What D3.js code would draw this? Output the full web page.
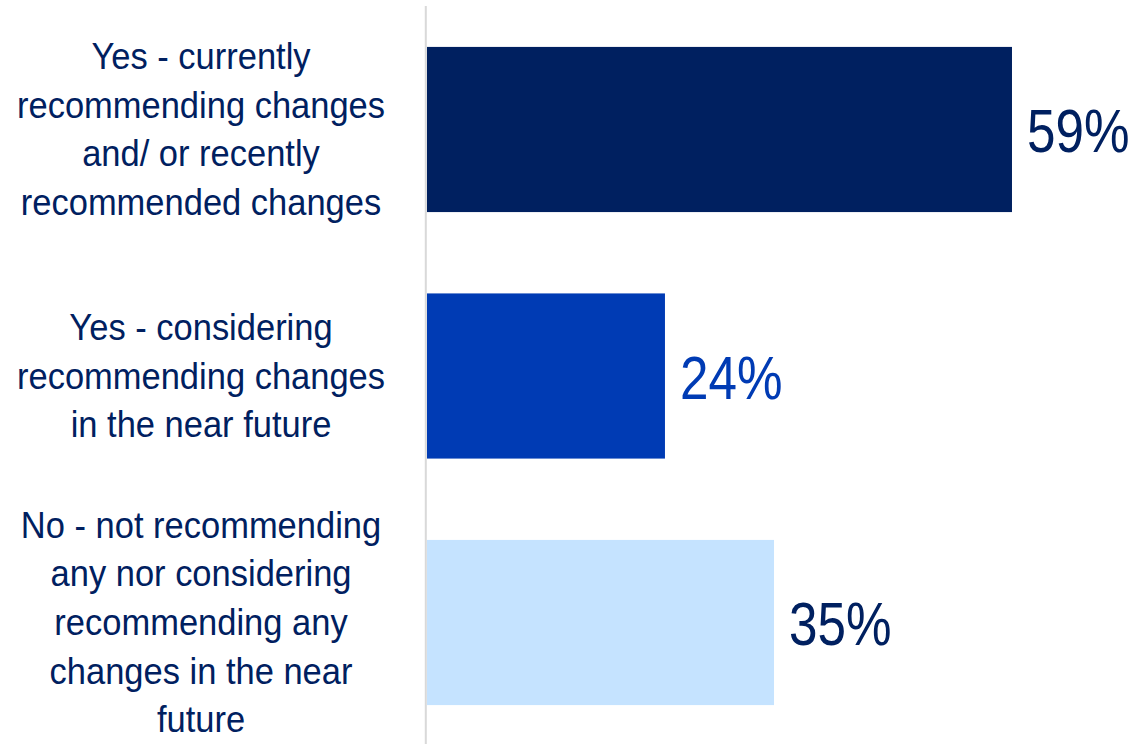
<!DOCTYPE html>
<html>
<head>
<meta charset="utf-8">
<script src="https://cdn.jsdelivr.net/npm/d3@7"></script>
<style>
  html, body { margin: 0; padding: 0; background: #ffffff; }
  svg { display: block; }
  text { font-family: "Liberation Sans", Arial, sans-serif; }
</style>
</head>
<body>
<svg id="chart" width="1138" height="744"></svg>
<script>
// Survey responses: share recommending changes
const categories = [
  "Yes - currently recommending changes and/ or recently recommended changes",
  "Yes - considering recommending changes in the near future",
  "No - not recommending any nor considering recommending any changes in the near future"
];
const categoryLines = [
  ["Yes - currently", "recommending changes", "and/ or recently", "recommended changes"],
  ["Yes - considering", "recommending changes", "in the near future"],
  ["No - not recommending", "any nor considering", "recommending any", "changes in the near", "future"]
];
const values = [59, 24, 35];
const valueLabels = ["59%", "24%", "35%"];
const barColors = ["#002060", "#003BB4", "#C5E3FF"];
const labelColors = ["#002060", "#003BB4", "#002060"];

const W = 1138, H = 744;
const svg = d3.select("#chart");

const x = d3.scaleLinear().domain([0, 70]).range([427, 427 + 70 * 9.915]);
const y = d3.scaleBand()
  .domain(d3.range(categories.length))
  .range([6, 746])
  .paddingInner(0.33)
  .paddingOuter(0.166);

// vertical category axis line
svg.append("line")
  .attr("x1", 425.8).attr("x2", 425.8)
  .attr("y1", 6).attr("y2", H)
  .attr("stroke", "#D9D9D9")
  .attr("stroke-width", 2);

// bars
svg.selectAll("rect.bar")
  .data(values)
  .join("rect")
  .attr("class", "bar")
  .attr("x", x(0))
  .attr("y", (d, i) => y(i))
  .attr("width", d => x(d) - x(0))
  .attr("height", y.bandwidth())
  .attr("fill", (d, i) => barColors[i]);

// value labels
svg.selectAll("text.value")
  .data(values)
  .join("text")
  .attr("class", "value")
  .attr("transform", (d, i) => `translate(${x(d) + 15},${y(i) + y.bandwidth() / 2 + 22.5}) scale(0.84,1)`)
  .attr("font-size", 61)
  .attr("fill", (d, i) => labelColors[i])
  .text((d, i) => valueLabels[i]);

// wrapped category labels
const lineStep = 48.7;
const labelCx = 201;
categoryLines.forEach((lines, i) => {
  const cy = y(i) + y.bandwidth() / 2;
  const n = lines.length;
  lines.forEach((ln, j) => {
    const base = cy + (j - (n - 1) / 2) * lineStep + 12.5;
    svg.append("text")
      .attr("transform", `translate(${labelCx},${base}) scale(0.92,1)`)
      .attr("text-anchor", "middle")
      .attr("font-size", 37.5)
      .attr("fill", "#002060")
      .text(ln);
  });
});
</script>
</body>
</html>
